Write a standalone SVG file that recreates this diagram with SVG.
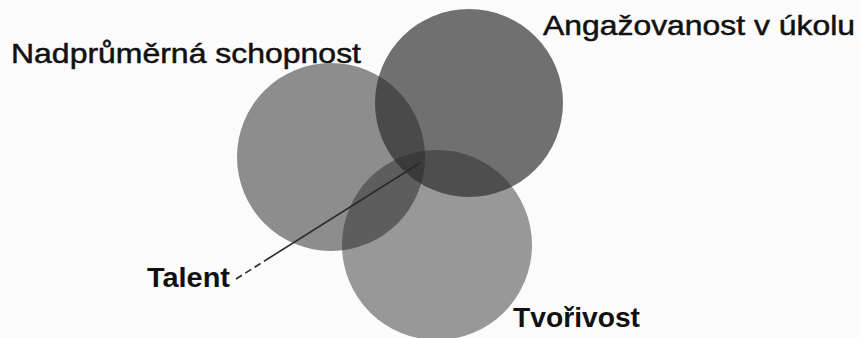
<svg xmlns="http://www.w3.org/2000/svg" width="860" height="338" viewBox="0 0 860 338">
  <style>
    .set { fill: #282828; }
    .lbl { font-family: "Liberation Sans", Arial, sans-serif; font-size: 28px; fill: #111; stroke: #111; stroke-width: 0.5; }
    .b { font-weight: bold; stroke-width: 0; }
    .lead { stroke: #2a2a2a; stroke-width: 1.6; fill: none; }
  </style>
  <rect x="0" y="0" width="860" height="338" fill="#fbfbfb"/>
  <g id="nadprumerna-schopnost">
    <circle class="set" cx="331" cy="157" r="94" fill-opacity="0.52"/>
    <text class="lbl" x="11" y="63" textLength="350" lengthAdjust="spacingAndGlyphs">Nadprůměrná schopnost</text>
  </g>
  <g id="angazovanost-v-ukolu">
    <circle class="set" cx="469" cy="103" r="94" fill-opacity="0.66"/>
    <text class="lbl" x="543" y="35" textLength="312" lengthAdjust="spacingAndGlyphs">Angažovanost v úkolu</text>
  </g>
  <g id="tvorivost">
    <circle class="set" cx="437" cy="245" r="95" fill-opacity="0.47"/>
    <text class="lbl b" x="513" y="327" textLength="127" lengthAdjust="spacingAndGlyphs">Tvořivost</text>
  </g>
  <g id="talent">
    <text class="lbl b" x="147" y="287" textLength="83" lengthAdjust="spacingAndGlyphs">Talent</text>
  </g>
  <g id="connectors">
    <line class="lead" x1="236" y1="279" x2="266" y2="260" stroke-dasharray="7 4"/>
    <line class="lead" x1="266" y1="260" x2="420" y2="163"/>
  </g>
</svg>
